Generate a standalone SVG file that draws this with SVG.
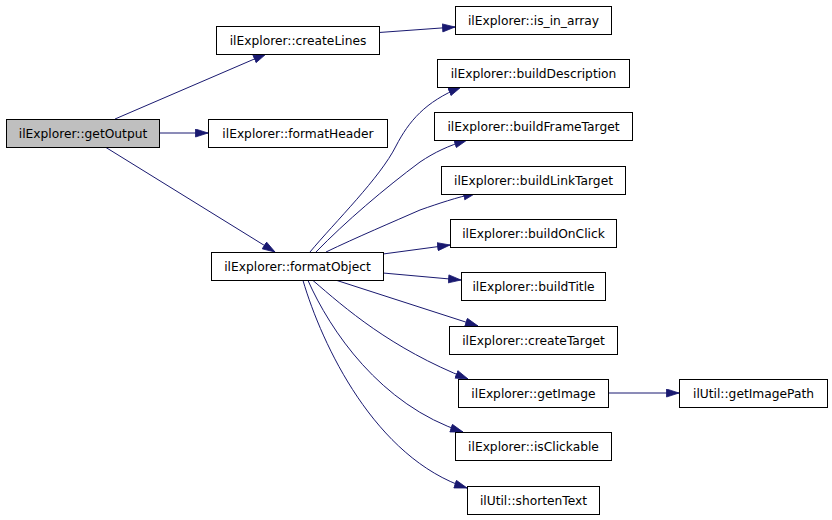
<svg xmlns="http://www.w3.org/2000/svg" width="832" height="520" viewBox="0 0 832 520">
<defs>
<style>
.n rect{fill:#ffffff;stroke:#000000;stroke-width:1}
.n text{font-family:"DejaVu Sans","Liberation Sans",sans-serif;font-size:12.25px;fill:#000000;text-anchor:middle}
#n_getOutput rect{fill:#bfbfbf}
.e path{fill:none;stroke:#191970;stroke-width:1;marker-end:url(#ah)}
</style>
<marker id="ah" markerUnits="userSpaceOnUse" markerWidth="14" markerHeight="10" refX="13" refY="4.5" orient="auto">
<path d="M0.5,0.5 L13,4.5 L0.5,8.5 z" fill="#191970" stroke="#191970" stroke-width="0.8"/>
</marker>
</defs>
<rect width="832" height="520" fill="#ffffff"/>
<g id="edges" class="e">
<path d="M115,119 L266,54"/>
<path d="M159,133 L208,133"/>
<path d="M106,147.5 L275,252"/>
<path d="M379,32.5 L455,27"/>
<path d="M310,252 C335,222 380,178 396,146 C409,121 425,102 461,87"/>
<path d="M316,252 C345,222 385,188 420,162 C435,152 448,146 467,140"/>
<path d="M326,252 C355,238 395,221 420,210 C440,203 455,198 476,193"/>
<path d="M383,254 L450,245"/>
<path d="M383,273 L461,280"/>
<path d="M337,280.5 L478,326"/>
<path d="M313,280.5 C345,308 390,348 468,379"/>
<path d="M308,280.5 C330,330 380,405 463,432"/>
<path d="M303,280.5 C322,345 375,458 467,488"/>
<path d="M608,393 L679,393"/>
</g>
<g id="n_getOutput" class="n"><rect x="6.5" y="119.5" width="153" height="28"/><text x="83" y="137.5">ilExplorer::getOutput</text></g>
<g id="n_createLines" class="n"><rect x="216.5" y="26.5" width="163" height="28"/><text x="298" y="44.5">ilExplorer::createLines</text></g>
<g id="n_formatHeader" class="n"><rect x="208.5" y="119.5" width="179" height="28"/><text x="298" y="137.5">ilExplorer::formatHeader</text></g>
<g id="n_formatObject" class="n"><rect x="211.5" y="252.5" width="172" height="28"/><text x="297.5" y="270.5">ilExplorer::formatObject</text></g>
<g id="n_is_in_array" class="n"><rect x="455.5" y="6.5" width="156" height="28"/><text x="533.5" y="24.5">ilExplorer::is_in_array</text></g>
<g id="n_buildDescription" class="n"><rect x="437.5" y="59.5" width="192" height="28"/><text x="533.5" y="77.5">ilExplorer::buildDescription</text></g>
<g id="n_buildFrameTarget" class="n"><rect x="434.5" y="112.5" width="198" height="28"/><text x="533.5" y="130.5">ilExplorer::buildFrameTarget</text></g>
<g id="n_buildLinkTarget" class="n"><rect x="441.5" y="166.5" width="184" height="28"/><text x="533.5" y="184.5">ilExplorer::buildLinkTarget</text></g>
<g id="n_buildOnClick" class="n"><rect x="450.5" y="219.5" width="166" height="28"/><text x="533.5" y="237.5">ilExplorer::buildOnClick</text></g>
<g id="n_buildTitle" class="n"><rect x="461.5" y="272.5" width="144" height="28"/><text x="533.5" y="290.5">ilExplorer::buildTitle</text></g>
<g id="n_createTarget" class="n"><rect x="449.5" y="326.5" width="168" height="28"/><text x="533.5" y="344.5">ilExplorer::createTarget</text></g>
<g id="n_getImage" class="n"><rect x="458.5" y="379.5" width="150" height="28"/><text x="533.5" y="397.5">ilExplorer::getImage</text></g>
<g id="n_isClickable" class="n"><rect x="455.5" y="432.5" width="156" height="28"/><text x="533.5" y="450.5">ilExplorer::isClickable</text></g>
<g id="n_shortenText" class="n"><rect x="467.5" y="486.5" width="132" height="28"/><text x="533.5" y="504.5">ilUtil::shortenText</text></g>
<g id="n_getImagePath" class="n"><rect x="679.5" y="379.5" width="148" height="28"/><text x="753.5" y="397.5">ilUtil::getImagePath</text></g>
</svg>
